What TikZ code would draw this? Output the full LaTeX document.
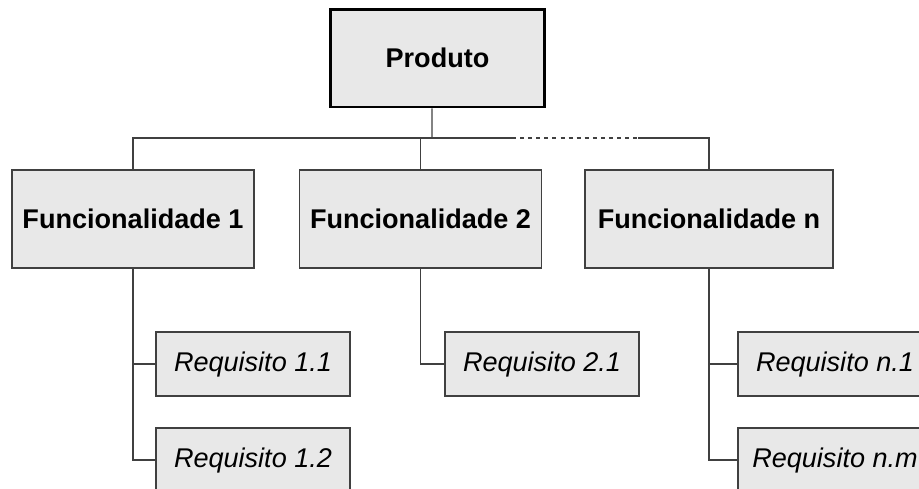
\documentclass[tikz,border=0pt]{standalone}
\usepackage{fontspec}
\setmainfont{Liberation Sans}
\usepackage{tikz}
\usepackage{xcolor}
\definecolor{boxgray}{HTML}{E8E8E8}
\definecolor{linegray}{HTML}{404040}

\begin{document}
\begin{tikzpicture}[
  x=0.02cm, y=-0.02cm,
  prodbox/.style={draw=black, line width=1.7pt, fill=boxgray, minimum width=4.3cm, minimum height=1.96cm, inner sep=0pt, font=\fontsize{15.4}{18}\selectfont\bfseries},
  funcbox/.style={draw=linegray, line width=0.85pt, fill=boxgray, minimum width=4.84cm, minimum height=1.96cm, inner sep=0pt, font=\fontsize{15.4}{18}\selectfont\bfseries},
  reqbox/.style={draw=linegray, line width=0.7pt, fill=boxgray, minimum width=3.88cm, minimum height=1.28cm, inner sep=0pt, font=\fontsize{15.4}{18}\selectfont\itshape},
  link/.style={draw=linegray, line width=0.6pt}
]
\useasboundingbox (0,0) rectangle (919,488);

% Top: the product
\node[prodbox] (prod) at (437.5, 58) {Produto};

% Middle row: functionalities
\node[funcbox] (func1) at (133, 219) {Funcionalidade 1};
\node[funcbox] (func2) at (420.5, 219) {Funcionalidade 2};
\node[funcbox, minimum width=4.96cm] (funcn) at (709, 219) {Funcionalidade n};

% Bottom: requirements
\node[reqbox] (req11) at (253, 364) {Requisito 1.1};
\node[reqbox] (req12) at (253, 460) {Requisito 1.2};
\node[reqbox] (req21) at (542, 364) {Requisito 2.1};
\node[reqbox] (reqn1) at (835, 364) {Requisito n.1};
\node[reqbox] (reqnm) at (835, 460) {Requisito n.m};

% Bus below the product
\coordinate (bus) at (432, 138);
\coordinate (dotA) at (512, 138);
\coordinate (dotB) at (638, 138);
\draw[link] ([xshift=-0.11cm]prod.south) -- (bus);
\draw[link] (func1.north) -- (func1.north |- bus) -- (dotA);
\draw[link, dash pattern=on 2.3pt off 2.3pt] (dotA) -- (dotB);
\draw[link] (dotB) -- (funcn.north |- bus) -- (funcn.north);
\draw[link] (func2.north) -- (func2.north |- bus);

% Functionality to requirement links
\draw[link] (func1.south) |- (req11.west);
\draw[link] (func1.south) |- (req12.west);
\draw[link] (func2.south) |- (req21.west);
\draw[link] (funcn.south) |- (reqn1.west);
\draw[link] (funcn.south) |- (reqnm.west);
\end{tikzpicture}
\end{document}
